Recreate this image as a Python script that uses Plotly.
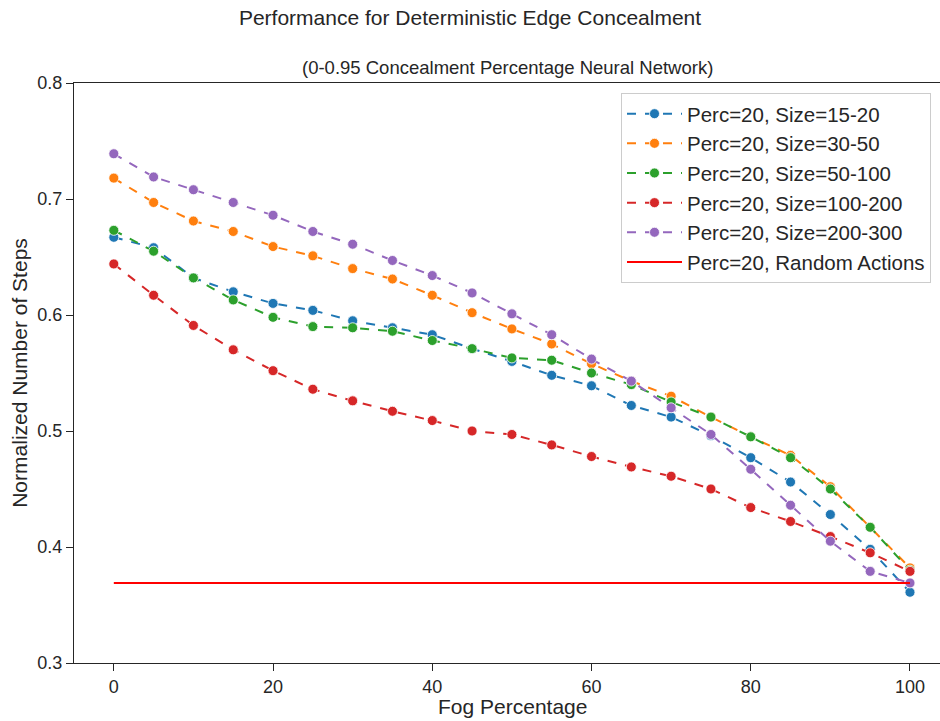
import plotly.graph_objects as go

fog = [0, 5, 10, 15, 20, 25, 30, 35, 40, 45, 50, 55, 60, 65, 70, 75, 80, 85, 90, 95, 100]

size_15_20 = [0.667, 0.658, 0.632, 0.620, 0.610, 0.604, 0.595, 0.589, 0.583, 0.571, 0.560,
              0.548, 0.539, 0.522, 0.512, 0.496, 0.477, 0.456, 0.428, 0.398, 0.361]
size_30_50 = [0.718, 0.697, 0.681, 0.672, 0.659, 0.651, 0.640, 0.631, 0.617, 0.602, 0.588,
              0.575, 0.558, 0.543, 0.530, 0.512, 0.495, 0.479, 0.452, 0.417, 0.382]
size_50_100 = [0.673, 0.655, 0.632, 0.613, 0.598, 0.590, 0.589, 0.586, 0.578, 0.571, 0.563,
               0.561, 0.550, 0.540, 0.525, 0.512, 0.495, 0.477, 0.450, 0.417, 0.380]
size_100_200 = [0.644, 0.617, 0.591, 0.570, 0.552, 0.536, 0.526, 0.517, 0.509, 0.500, 0.497,
                0.488, 0.478, 0.469, 0.461, 0.450, 0.434, 0.422, 0.409, 0.395, 0.379]
size_200_300 = [0.739, 0.719, 0.708, 0.697, 0.686, 0.672, 0.661, 0.647, 0.634, 0.619, 0.601,
                0.583, 0.562, 0.543, 0.520, 0.497, 0.467, 0.436, 0.405, 0.379, 0.369]
random_actions = 0.369

series_names = ["Perc=20, Size=15-20", "Perc=20, Size=30-50", "Perc=20, Size=50-100",
                "Perc=20, Size=100-200", "Perc=20, Size=200-300"]
series_values = [size_15_20, size_30_50, size_50_100, size_100_200, size_200_300]
colors = ["#1f77b4", "#ff7f0e", "#2ca02c", "#d62728", "#9467bd"]

FONT = "Liberation Sans, Arial, sans-serif"

fig = go.Figure()
for name, vals, c in zip(series_names, series_values, colors):
    fig.add_trace(go.Scatter(
        x=fog, y=vals, name=name, mode="lines+markers",
        line=dict(color=c, width=2, dash="dash"),
        marker=dict(color=c, size=10, line=dict(color="white", width=0.8)),
    ))
fig.add_trace(go.Scatter(
    x=[fog[0], fog[-1]], y=[random_actions, random_actions],
    name="Perc=20, Random Actions", mode="lines",
    line=dict(color="#ff0000", width=2),
))

fig.update_layout(
    width=940, height=721,
    margin=dict(l=74, r=0, t=83, b=58),
    paper_bgcolor="white", plot_bgcolor="white",
    font=dict(family=FONT, color="#262626", size=18),
    title=dict(text="Performance for Deterministic Edge Concealment",
               x=0.5, xanchor="center", y=0.975, yanchor="middle",
               font=dict(size=21, color="#262626")),
    showlegend=True,
    legend=dict(x=(621 - 74) / 866, y=0.983, xanchor="left", yanchor="top",
                bgcolor="rgba(255,255,255,0.8)", bordercolor="#cccccc", borderwidth=1,
                font=dict(size=20.5, color="#262626"), itemwidth=55, tracegroupgap=0),
    annotations=[
        dict(text="(0-0.95 Concealment Percentage Neural Network)",
             xref="paper", yref="paper", x=0.5, y=1.0, yshift=3,
             xanchor="center", yanchor="bottom", showarrow=False,
             font=dict(size=18.5, color="#262626")),
        dict(text="Fog Percentage", xref="paper", yref="paper",
             x=(512 - 74) / 866, y=(663 - 706) / 580, xanchor="center", yanchor="middle",
             showarrow=False, font=dict(size=21, color="#262626")),
    ],
)
fig.update_xaxes(
    range=[-5, 103.77], tickvals=[0, 20, 40, 60, 80, 100],
    showline=True, linecolor="#262626", linewidth=1.2, mirror=True,
    ticks="outside", ticklen=7, tickcolor="#262626", showgrid=False, zeroline=False,
    tickfont=dict(size=18),
)
fig.update_yaxes(
    range=[0.3, 0.8], tickvals=[0.3, 0.4, 0.5, 0.6, 0.7, 0.8],
    ticktext=["0.3", "0.4", "0.5", "0.6", "0.7", "0.8"],
    showline=True, linecolor="#262626", linewidth=1.2,
    ticks="outside", ticklen=7, tickcolor="#262626", showgrid=False, zeroline=False,
    tickfont=dict(size=18),
    title=dict(text="Normalized Number of Steps", font=dict(size=21), standoff=3),
)

fig.write_html("out.html")
